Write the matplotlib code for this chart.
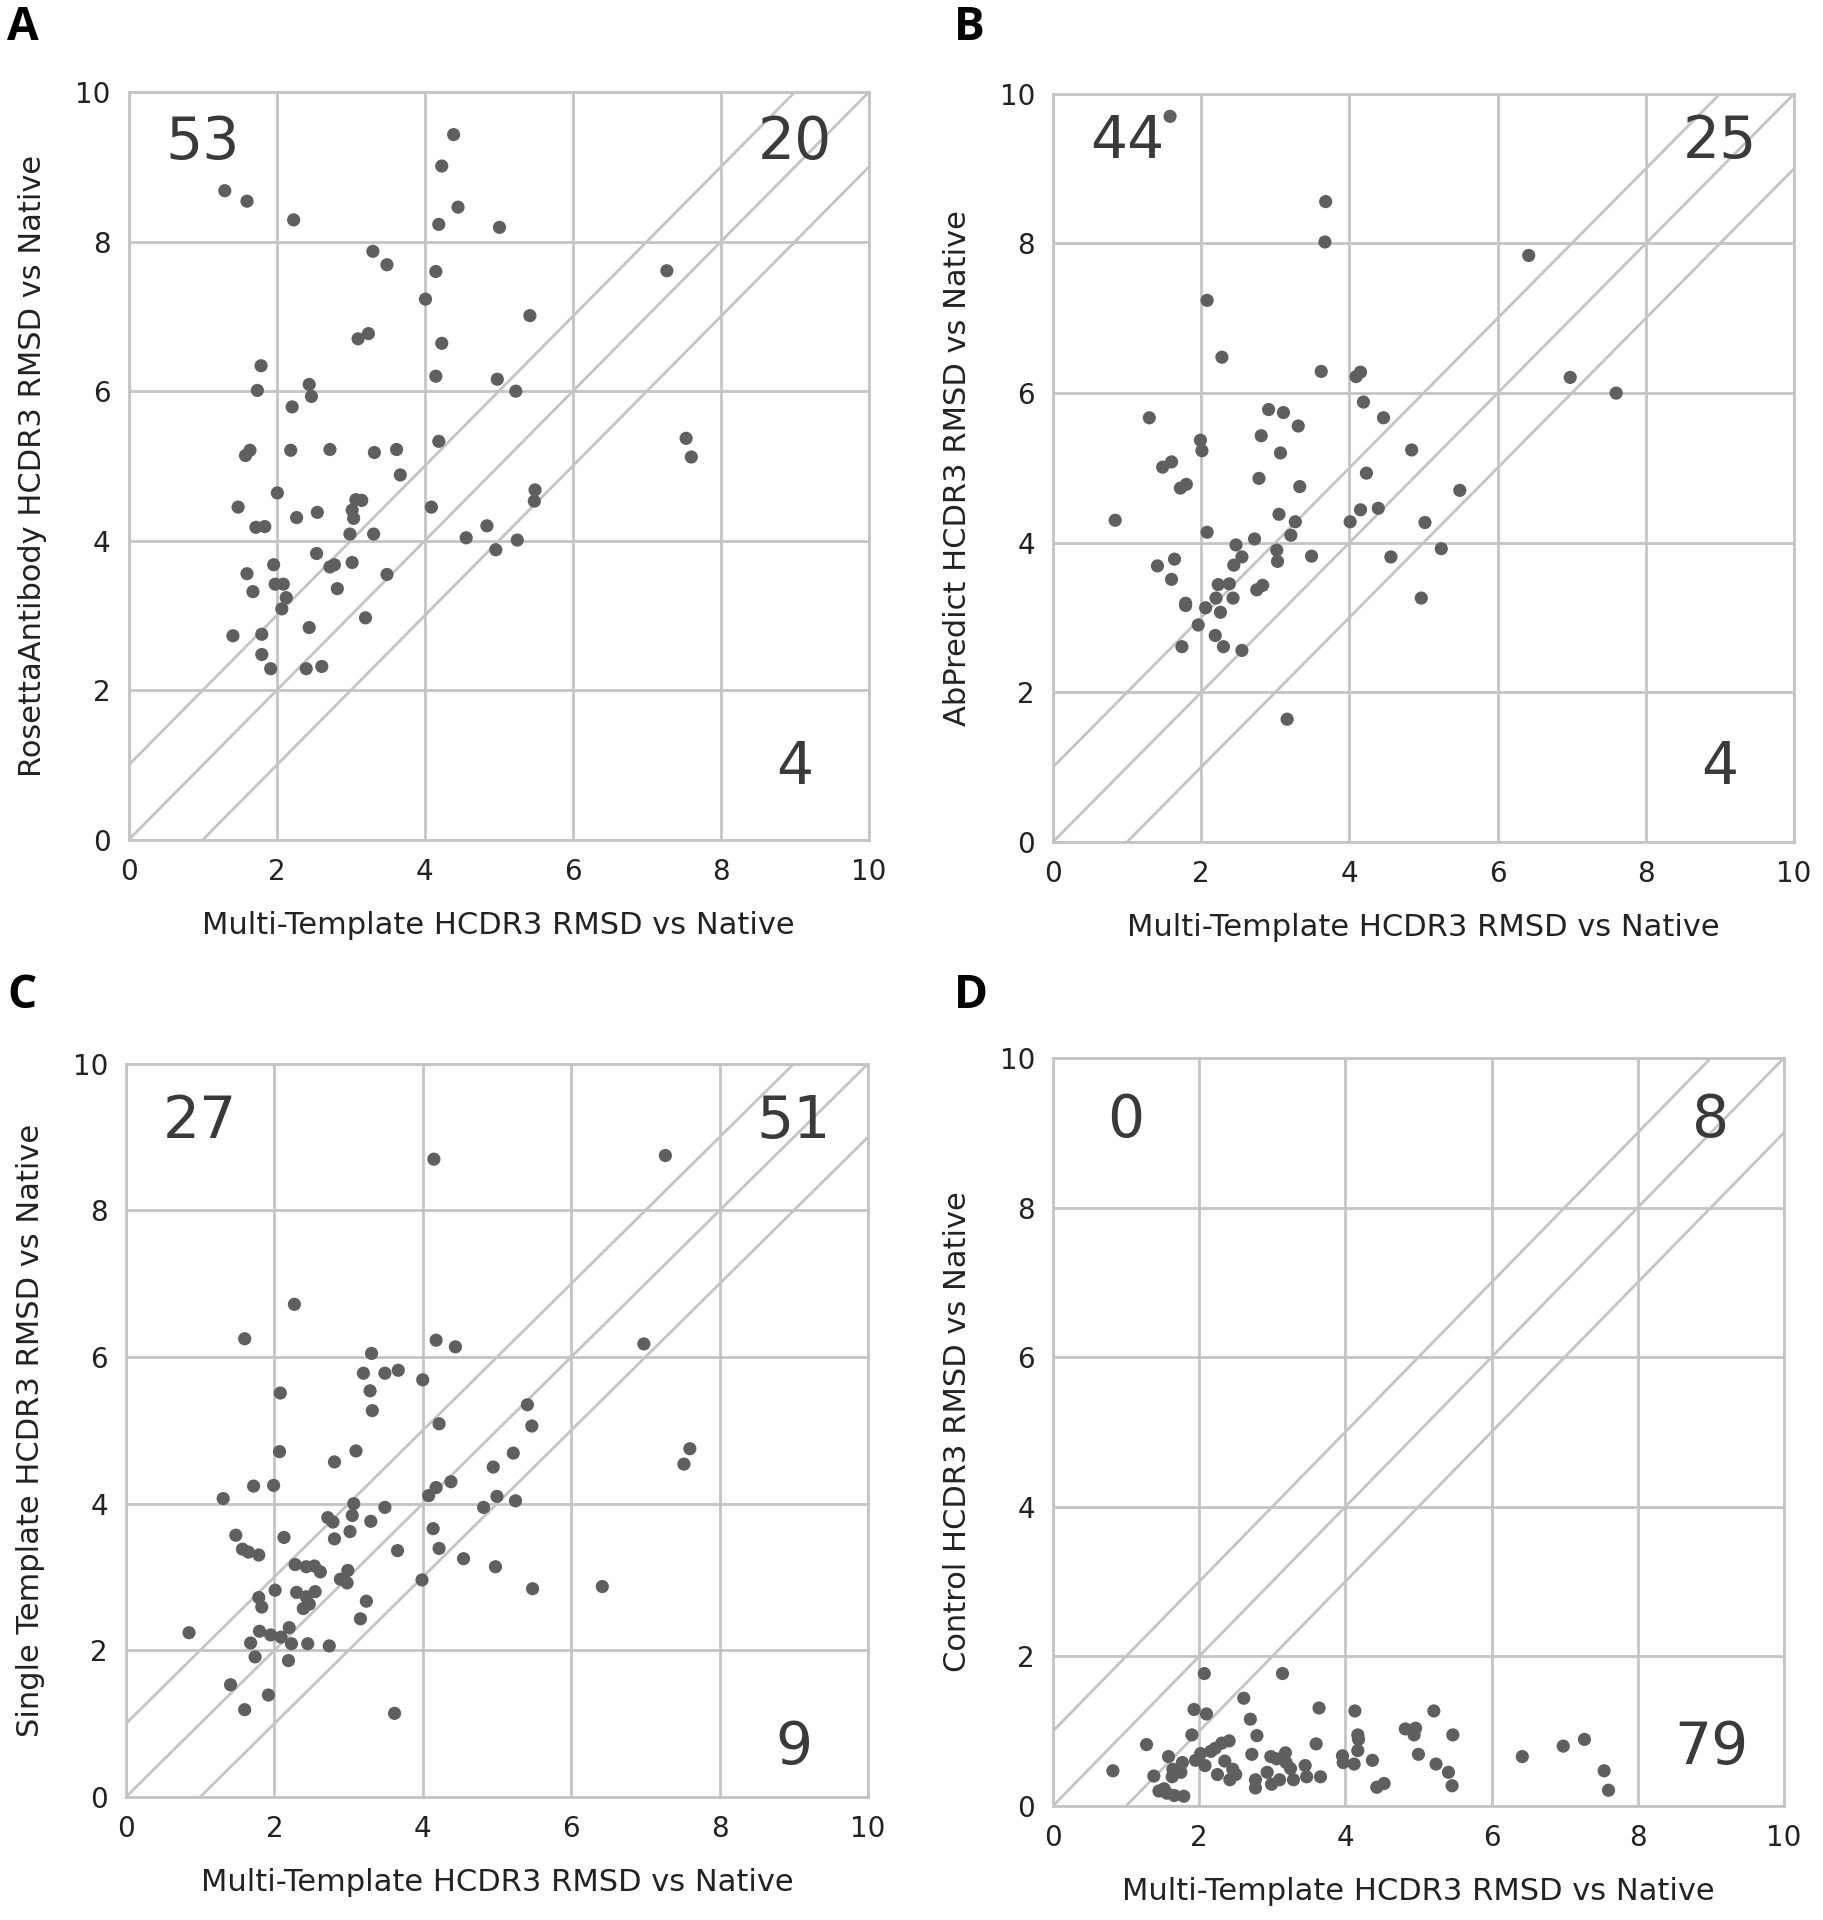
import numpy as np
import matplotlib
matplotlib.use("Agg")
import matplotlib.pyplot as plt

# panel A: Multi-Template vs RosettaAntibody
a_x = [4.39, 4.23, 1.30, 1.60, 2.23, 4.45, 4.19, 5.01, 3.30, 3.49, 4.15, 4.01, 5.42,
       3.10, 3.24, 4.23, 1.79, 4.15, 4.98, 5.23, 1.74, 2.44, 2.47, 2.21, 4.19, 1.64,
       1.58, 2.19, 2.72, 3.32, 3.62, 3.67, 5.49, 5.48, 2.01, 1.48, 3.07, 3.15, 4.09,
       3.02, 3.04, 2.27, 2.55, 1.72, 1.84, 2.99, 3.31, 4.84, 4.56, 5.25, 4.96, 2.54,
       1.96, 2.72, 2.78, 3.02, 1.60, 3.49, 1.68, 1.98, 2.09, 2.13, 2.82, 2.07, 3.20,
       1.41, 1.80, 2.44, 1.80, 1.92, 2.40, 2.61, 7.27, 7.53, 7.60]
a_y = [9.43, 9.01, 8.68, 8.54, 8.29, 8.46, 8.23, 8.19, 7.87, 7.69, 7.60, 7.23, 7.01,
       6.70, 6.77, 6.64, 6.34, 6.20, 6.16, 6.00, 6.01, 6.09, 5.93, 5.79, 5.33, 5.21,
       5.14, 5.21, 5.22, 5.18, 5.22, 4.88, 4.68, 4.53, 4.64, 4.45, 4.55, 4.54, 4.45,
       4.41, 4.30, 4.31, 4.38, 4.18, 4.19, 4.09, 4.09, 4.20, 4.04, 4.01, 3.88, 3.83,
       3.68, 3.65, 3.68, 3.71, 3.56, 3.55, 3.32, 3.42, 3.42, 3.24, 3.36, 3.09, 2.97,
       2.73, 2.75, 2.84, 2.48, 2.29, 2.29, 2.32, 7.61, 5.37, 5.12]

# panel B: Multi-Template vs AbPredict
b_x = [1.58, 3.68, 3.67, 2.08, 2.28, 3.62, 4.09, 4.15, 4.19, 4.46, 1.30, 2.91, 3.11,
       3.31, 2.81, 1.99, 2.01, 3.07, 4.84, 5.49, 1.48, 1.60, 1.72, 1.80, 4.23, 2.78,
       3.33, 0.84, 2.08, 3.05, 3.27, 3.21, 4.01, 4.15, 4.39, 5.02, 5.24, 2.72, 2.47,
       3.02, 3.03, 3.49, 4.56, 1.41, 1.64, 1.60, 2.55, 2.44, 2.23, 2.38, 2.75, 2.83,
       1.79, 1.79, 2.06, 2.20, 2.43, 2.26, 4.97, 1.96, 2.19, 1.74, 2.30, 2.55, 3.16,
       6.42, 6.98, 7.60]
b_y = [9.70, 8.56, 8.02, 7.24, 6.48, 6.29, 6.22, 6.28, 5.88, 5.67, 5.67, 5.78, 5.74,
       5.56, 5.43, 5.37, 5.23, 5.20, 5.24, 4.70, 5.01, 5.08, 4.73, 4.78, 4.93, 4.86,
       4.75, 4.30, 4.14, 4.38, 4.28, 4.10, 4.28, 4.44, 4.46, 4.27, 3.92, 4.05, 3.97,
       3.90, 3.75, 3.82, 3.81, 3.69, 3.78, 3.51, 3.81, 3.70, 3.44, 3.45, 3.37, 3.43,
       3.19, 3.16, 3.13, 3.26, 3.26, 3.07, 3.26, 2.90, 2.76, 2.61, 2.61, 2.56, 1.64,
       7.84, 6.21, 6.00]

# panel C: Multi-Template vs Single Template
c_x = [4.15, 2.27, 1.60, 4.18, 4.44, 3.31, 3.20, 3.49, 3.67, 4.00, 3.29, 2.08, 3.32,
       5.41, 5.47, 4.22, 3.10, 2.07, 2.81, 5.22, 4.95, 1.72, 1.99, 4.18, 4.38, 1.31,
       4.08, 5.00, 5.25, 3.07, 4.82, 3.49, 2.72, 2.79, 3.05, 3.30, 3.02, 1.48, 2.13,
       2.81, 4.14, 1.57, 1.65, 1.79, 3.66, 4.22, 4.55, 2.28, 2.43, 2.54, 2.62, 2.99,
       2.89, 2.98, 4.98, 3.99, 5.48, 1.79, 1.83, 2.01, 2.30, 2.43, 2.55, 2.47, 2.39,
       3.24, 3.16, 0.85, 1.80, 1.95, 2.09, 2.20, 1.68, 2.23, 2.45, 2.74, 1.74, 2.19,
       1.41, 1.92, 1.60, 3.62, 7.27, 6.98, 7.60, 7.52, 6.42]
c_y = [8.70, 6.72, 6.25, 6.23, 6.14, 6.05, 5.78, 5.78, 5.82, 5.69, 5.54, 5.51, 5.27,
       5.35, 5.06, 5.09, 4.72, 4.71, 4.57, 4.69, 4.50, 4.24, 4.25, 4.22, 4.30, 4.07,
       4.11, 4.10, 4.04, 4.00, 3.95, 3.95, 3.81, 3.75, 3.84, 3.76, 3.62, 3.57, 3.54,
       3.52, 3.66, 3.38, 3.34, 3.30, 3.36, 3.39, 3.25, 3.17, 3.14, 3.15, 3.07, 3.09,
       2.97, 2.92, 3.14, 2.96, 2.84, 2.72, 2.59, 2.82, 2.79, 2.73, 2.80, 2.63, 2.57,
       2.67, 2.43, 2.24, 2.26, 2.21, 2.18, 2.31, 2.10, 2.09, 2.09, 2.06, 1.91, 1.86,
       1.53, 1.39, 1.19, 1.14, 8.75, 6.18, 4.75, 4.54, 2.87]

# panel D: Multi-Template vs Control
d_x = [2.07, 3.14, 2.61, 1.93, 2.10, 3.64, 4.13, 5.21, 2.70, 2.79, 1.90, 4.82, 4.96,
       4.94, 5.47, 4.17, 4.18, 7.27, 6.98, 6.42, 1.28, 2.41, 2.31, 2.22, 3.60, 1.58,
       2.02, 2.16, 1.95, 2.08, 1.77, 2.72, 3.18, 2.98, 4.17, 3.96, 3.97, 4.12, 4.37,
       5.00, 5.24, 5.41, 5.46, 7.54, 7.60, 4.43, 4.53, 0.82, 1.38, 1.64, 1.75, 1.63,
       2.46, 2.50, 2.42, 2.25, 2.77, 2.77, 2.93, 2.99, 3.10, 3.25, 3.29, 3.45, 3.47,
       3.66, 3.19, 3.06, 1.45, 1.56, 1.66, 1.79, 1.52, 2.35]
d_y = [1.77, 1.77, 1.44, 1.29, 1.23, 1.31, 1.27, 1.27, 1.16, 0.94, 0.95, 1.03, 1.04,
       0.95, 0.95, 0.95, 0.89, 0.89, 0.80, 0.66, 0.82, 0.87, 0.84, 0.77, 0.83, 0.66,
       0.70, 0.73, 0.61, 0.54, 0.58, 0.69, 0.71, 0.66, 0.74, 0.67, 0.58, 0.56, 0.61,
       0.69, 0.56, 0.45, 0.27, 0.47, 0.21, 0.25, 0.30, 0.47, 0.40, 0.49, 0.45, 0.39,
       0.49, 0.42, 0.35, 0.42, 0.35, 0.24, 0.45, 0.29, 0.35, 0.50, 0.35, 0.54, 0.39,
       0.39, 0.58, 0.63, 0.20, 0.17, 0.14, 0.13, 0.23, 0.60]

panel_letters = ["A", "B", "C", "D"]
y_labels = ["RosettaAntibody HCDR3 RMSD vs Native",
            "AbPredict HCDR3 RMSD vs Native",
            "Single Template HCDR3 RMSD vs Native",
            "Control HCDR3 RMSD vs Native"]
x_label = "Multi-Template HCDR3 RMSD vs Native"
# counts: above band (top-left), inside band (top-right), below band (bottom-right)
counts = [(53, 20, 4), (44, 25, 4), (27, 51, 9), (0, 8, 79)]

xs = [a_x, b_x, c_x, d_x]
ys = [a_y, b_y, c_y, d_y]

# axes rectangles in figure fractions
rects = [[0.0705, 0.5625, 0.4062, 0.3896],
         [0.5776, 0.5615, 0.4065, 0.3896],
         [0.0691, 0.0641, 0.4070, 0.3818],
         [0.5776, 0.0594, 0.4010, 0.3896]]
letter_pos = [(0.004, 0.998), (0.523, 0.998), (0.004, 0.494), (0.523, 0.494)]
# where the count numbers sit (top row y, bottom row y) in data units
count_y = [(9.33, 0.97), (9.36, 0.99), (9.22, 0.67), (9.16, 0.78)]

grid_c = "#c4c4c4"
dot_c = "#5f5f5f"
text_c = "#3a3a3a"

fig = plt.figure(figsize=(18.23, 19.2), dpi=100)

for i in range(4):
    ax = fig.add_axes(rects[i])
    ax.set_xlim(0, 10)
    ax.set_ylim(0, 10)
    ax.set_xticks(np.arange(0, 11, 2))
    ax.set_yticks(np.arange(0, 11, 2))
    ax.grid(True, color=grid_c, lw=2.0)
    ax.set_axisbelow(True)
    for s in ax.spines.values():
        s.set_color(grid_c)
        s.set_linewidth(2.0)
    ax.tick_params(length=0, pad=13, labelsize=20, colors="#222222")

    line_x = np.array([0, 10])
    for off in (1, 0, -1):
        ax.plot(line_x, line_x + off, color=grid_c, lw=2.0, zorder=1)

    ax.scatter(xs[i], ys[i], s=90, color=dot_c, edgecolors="none", zorder=3)

    top_left, mid, bottom_right = counts[i]
    ty, by = count_y[i]
    ax.text(1.0, ty, str(top_left), fontsize=42, color=text_c, ha="center", va="center")
    ax.text(9.0, ty, str(mid), fontsize=42, color=text_c, ha="center", va="center")
    ax.text(9.0, by, str(bottom_right), fontsize=42, color=text_c, ha="center", va="center")

    ax.set_xlabel(x_label, fontsize=22, color="#222222", labelpad=18)
    ax.set_ylabel(y_labels[i], fontsize=22, color="#222222", labelpad=20)

    fig.text(letter_pos[i][0], letter_pos[i][1], panel_letters[i], fontsize=33,
             fontweight="bold", family="Open Sans", ha="left", va="top")

fig.savefig("out.png", dpi=100, facecolor="white")
